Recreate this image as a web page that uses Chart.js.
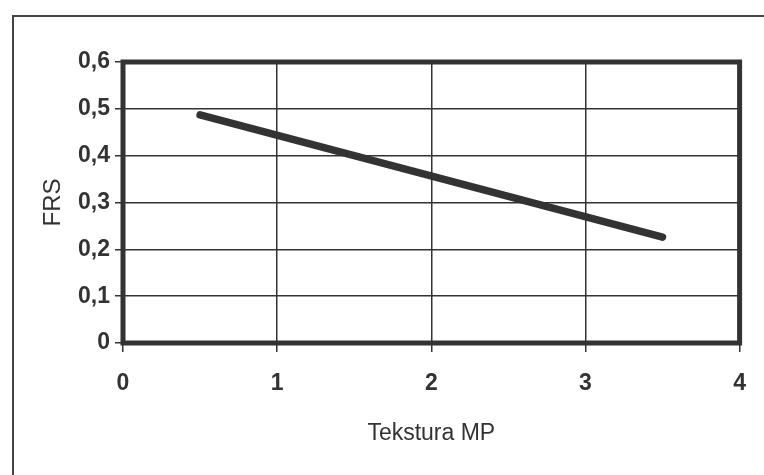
<!DOCTYPE html>
<html>
<head>
<meta charset="utf-8">
<script src="https://cdn.jsdelivr.net/npm/chart.js@4"></script>
<style>
  html, body { margin: 0; padding: 0; background: #fff; }
  #wrap { position: relative; width: 764px; height: 475px; overflow: hidden; }
  #frame { position: absolute; left: 12px; top: 15px; width: 780px; height: 500px;
           border-left: 2px solid #444; border-top: 2px solid #444; }
  canvas { position: absolute; left: 0; top: 0; }
</style>
</head>
<body>
<div id="wrap">
  <div id="frame"></div>
  <canvas id="chart" width="764" height="475"></canvas>
</div>
<script>
// dane
const teksturaMP = [0.5, 3.5];
const frsValues = [0.487, 0.226];
const xTicks = [0, 1, 2, 3, 4];
const yTicks = [0, 0.1, 0.2, 0.3, 0.4, 0.5, 0.6];

const ink = "#333";

// ramka obszaru wykresu
const plotBorder = {
  id: "plotBorder",
  afterDatasetsDraw(chart) {
    const { ctx, chartArea: a } = chart;
    ctx.save();
    ctx.strokeStyle = ink;
    ctx.lineWidth = 5;
    ctx.strokeRect(a.left, a.top, a.right - a.left, a.bottom - a.top);
    ctx.restore();
  },
};

const ctx = document.getElementById("chart").getContext("2d");
new Chart(ctx, {
  type: "scatter",
  data: {
    datasets: [
      {
        data: teksturaMP.map((x, i) => ({ x: x, y: frsValues[i] })),
        showLine: true,
        borderColor: ink,
        borderWidth: 7.5,
        borderCapStyle: "round",
        pointRadius: 0,
        tension: 0,
      },
    ],
  },
  options: {
    responsive: false,
    animation: false,
    layout: { padding: { top: 62, right: 19, left: 0, bottom: 0 } },
    plugins: { legend: { display: false }, tooltip: { enabled: false } },
    scales: {
      x: {
        type: "linear",
        min: 0,
        max: 4,
        afterBuildTicks(scale) { scale.ticks = xTicks.map(v => ({ value: v })); },
        afterFit(scale) { scale.height = 132; },
        grid: { color: ink, lineWidth: 1.5, tickLength: 9, drawTicks: true },
        border: { display: false },
        ticks: {
          color: ink,
          padding: 18,
          font: { family: "'Liberation Sans', Arial, sans-serif", size: 23, weight: "bold" },
        },
        title: {
          display: true,
          text: "Tekstura MP",
          color: ink,
          padding: { top: 0, bottom: 28 },
          font: { family: "'Liberation Sans Narrow', 'Liberation Sans', Arial, sans-serif", size: 23 },
        },
      },
      y: {
        type: "linear",
        min: 0,
        max: 0.6,
        afterBuildTicks(scale) { scale.ticks = yTicks.map(v => ({ value: v })); },
        afterFit(scale) { scale.width = 123; },
        grid: { color: ink, lineWidth: 1.5, tickLength: 8, drawTicks: true },
        border: { display: false },
        ticks: {
          color: ink,
          padding: 5,
          callback: v => v === 0 ? "0" : v.toFixed(1).replace(".", ","),
          font: { family: "'Liberation Sans', Arial, sans-serif", size: 23, weight: "bold" },
        },
        title: {
          display: true,
          text: "FRS",
          color: ink,
          padding: { top: 39, bottom: 0 },
          font: { family: "'Liberation Sans', Arial, sans-serif", size: 24 },
        },
      },
    },
  },
  plugins: [plotBorder],
});
</script>
</body>
</html>
